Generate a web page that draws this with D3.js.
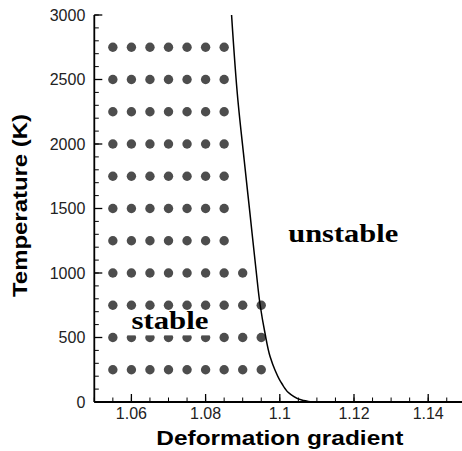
<!DOCTYPE html>
<html>
<head>
<meta charset="utf-8">
<script src="https://cdn.jsdelivr.net/npm/d3@7"></script>
<style>
  body { margin: 0; background: #fff; }
  svg { display: block; }
</style>
</head>
<body>
<div id="chart"></div>
<script>
// stability map data
var gridX = [1.055, 1.06, 1.065, 1.07, 1.075, 1.08, 1.085, 1.09, 1.095];
var gridT = [250, 500, 750, 1000, 1250, 1500, 1750, 2000, 2250, 2500, 2750];
// last stable x for each temperature row
var rowMaxX = [1.095, 1.095, 1.095, 1.09, 1.085, 1.085, 1.085, 1.085, 1.085, 1.085, 1.085];

// boundary curve
var curveX = [1.0870, 1.0887, 1.0904, 1.0920, 1.0936, 1.0947, 1.0960, 1.0974, 1.0987, 1.1005, 1.1032, 1.1059, 1.1086];
var curveT = [3000, 2341, 1876, 1450, 1023, 752, 535, 351, 248, 145, 54, 16, 0];

var xTicks = [1.06, 1.08, 1.1, 1.12, 1.14];
var xTickLabels = ["1.06", "1.08", "1.1", "1.12", "1.14"];
var yTicks = [0, 500, 1000, 1500, 2000, 2500, 3000];
var yTickLabels = ["0", "500", "1000", "1500", "2000", "2500", "3000"];

var W = 462, H = 451;

var svg = d3.select("#chart").append("svg")
    .attr("width", W)
    .attr("height", H);

var x = d3.scaleLinear().domain([1.05, 1.15]).range([94.3, 465.3]);
var y = d3.scaleLinear().domain([0, 3000]).range([402, 15]);

// dots
var points = [];
for (var i = 0; i < gridT.length; i++) {
    for (var j = 0; j < gridX.length; j++) {
        if (gridX[j] <= rowMaxX[i] + 1e-9) {
            points.push({ x: gridX[j], t: gridT[i] });
        }
    }
}

svg.append("g")
    .selectAll("circle")
    .data(points)
    .enter()
    .append("circle")
    .attr("cx", function(d) { return x(d.x); })
    .attr("cy", function(d) { return y(d.t); })
    .attr("r", 4.7)
    .style("fill", "#4d4d4d");

// boundary line
var line = d3.line()
    .x(function(d) { return x(d[0]); })
    .y(function(d) { return y(d[1]); })
    .curve(d3.curveMonotoneY);

svg.append("path")
    .datum(d3.zip(curveX, curveT))
    .attr("d", line)
    .style("fill", "none")
    .style("stroke", "#000")
    .style("stroke-width", "1.5px");

// axes (ticks point inward)
var xMinor = d3.range(1.05, 1.1501, 0.005);
var yMinor = d3.range(0, 3001, 100);

var xAxis = svg.append("g")
    .attr("transform", "translate(0," + y(0) + ")");

xAxis.append("line")
    .attr("x1", x(1.05)).attr("x2", W)
    .style("stroke", "#000").style("stroke-width", "1.8px");

xAxis.selectAll(".minor")
    .data(xMinor)
    .enter().append("line")
    .attr("x1", function(d) { return x(d); })
    .attr("x2", function(d) { return x(d); })
    .attr("y1", 0).attr("y2", -4.5)
    .style("stroke", "#000").style("stroke-width", "1px");

xAxis.selectAll(".major")
    .data(xTicks)
    .enter().append("line")
    .attr("x1", function(d) { return x(d); })
    .attr("x2", function(d) { return x(d); })
    .attr("y1", 0).attr("y2", -8)
    .style("stroke", "#000").style("stroke-width", "1.3px");

xAxis.selectAll("text")
    .data(xTicks)
    .enter().append("text")
    .attr("x", function(d) { return x(d); })
    .attr("y", 17)
    .attr("text-anchor", "middle")
    .style("font-family", "Liberation Sans, Arial, sans-serif")
    .style("font-size", "16px")
    .style("fill", "#222")
    .text(function(d, i) { return xTickLabels[i]; });

var yAxis = svg.append("g")
    .attr("transform", "translate(" + x(1.05) + ",0)");

yAxis.append("line")
    .attr("y1", y(0)).attr("y2", y(3000))
    .style("stroke", "#000").style("stroke-width", "1.8px");

yAxis.selectAll(".minor")
    .data(yMinor)
    .enter().append("line")
    .attr("y1", function(d) { return y(d); })
    .attr("y2", function(d) { return y(d); })
    .attr("x1", 0).attr("x2", 4.5)
    .style("stroke", "#000").style("stroke-width", "1px");

yAxis.selectAll(".major")
    .data(yTicks)
    .enter().append("line")
    .attr("y1", function(d) { return y(d); })
    .attr("y2", function(d) { return y(d); })
    .attr("x1", 0).attr("x2", 8)
    .style("stroke", "#000").style("stroke-width", "1.3px");

yAxis.selectAll("text")
    .data(yTicks)
    .enter().append("text")
    .attr("x", -9)
    .attr("y", function(d) { return y(d); })
    .attr("dy", "0.36em")
    .attr("text-anchor", "end")
    .style("font-family", "Liberation Sans, Arial, sans-serif")
    .style("font-size", "16px")
    .style("fill", "#222")
    .text(function(d, i) { return yTickLabels[i]; });

// axis titles
svg.append("text")
    .attr("x", (x(1.05) + x(1.15)) / 2)
    .attr("y", 445)
    .attr("text-anchor", "middle")
    .attr("textLength", 247)
    .attr("lengthAdjust", "spacingAndGlyphs")
    .style("font-family", "Liberation Sans, Arial, sans-serif")
    .style("font-weight", "bold")
    .style("font-size", "20.5px")
    .text("Deformation gradient");

svg.append("text")
    .attr("transform", "translate(27," + ((y(0) + y(3000)) / 2 - 3) + ") rotate(-90)")
    .attr("text-anchor", "middle")
    .attr("textLength", 183)
    .attr("lengthAdjust", "spacingAndGlyphs")
    .style("font-family", "Liberation Sans, Arial, sans-serif")
    .style("font-weight", "bold")
    .style("font-size", "20px")
    .text("Temperature (K)");

// region labels
function regionLabel(txt, dx, dt, len, boxed) {
    var g = svg.append("g");
    var bg = g.append("rect").style("fill", "#fff");
    var t = g.append("text")
        .attr("x", x(dx))
        .attr("y", y(dt))
        .attr("text-anchor", "middle")
        .attr("textLength", len)
        .attr("lengthAdjust", "spacingAndGlyphs")
        .style("font-family", "Liberation Serif, Times New Roman, serif")
        .style("font-weight", "bold")
        .style("font-size", "26px")
        .text(txt);
    if (boxed) {
        var b = t.node().getBBox();
        bg.attr("x", b.x - 5).attr("y", b.y + 4)
          .attr("width", b.width + 10).attr("height", b.height - 4);
    } else {
        bg.remove();
    }
}

regionLabel("stable", 1.0704, 563, 77, true);
regionLabel("unstable", 1.1171, 1238, 110, false);
</script>
</body>
</html>
